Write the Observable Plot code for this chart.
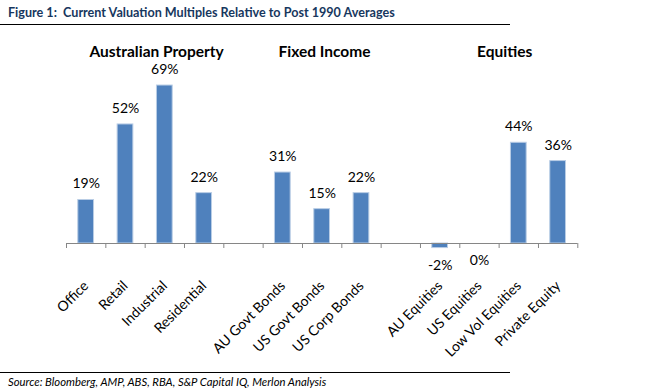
<!DOCTYPE html>
<html>
<head>
<meta charset="utf-8">
<script src="https://cdn.jsdelivr.net/npm/d3@7"></script>
<script src="https://cdn.jsdelivr.net/npm/@observablehq/plot@0.6"></script>
<style>
  body { margin: 0; background: #fff; font-family: Lato, "Open Sans", sans-serif; }
  #wrap { width: 645px; height: 392px; position: relative; overflow: hidden; }
  #title { position: absolute; left: 8px; top: 5px; font-weight: bold; font-size: 12.6px; color: #17375e; white-space: pre; }
  .rule { position: absolute; left: 0; width: 510px; height: 1px; background: #000; }
  #chart { position: absolute; left: 0; top: 26px; }
  #source { position: absolute; left: 8px; top: 375px; font-style: italic; font-size: 11.3px; color: #000; }
</style>
</head>
<body>
<div id="wrap">
  <div id="title">Figure 1:  Current Valuation Multiples Relative to Post 1990 Averages</div>
  <div class="rule" style="top:24px"></div>
  <div id="chart"></div>
  <div class="rule" style="top:372px"></div>
  <div id="source">Source: Bloomberg, AMP, ABS, RBA, S&amp;P Capital IQ, Merlon Analysis</div>
</div>
<script>
// Categories (empty strings are the gaps between groups)
const categories = ["Office", "Retail", "Industrial", "Residential", "",
  "AU Govt Bonds", "US Govt Bonds", "US Corp Bonds", "",
  "AU Equities", "US Equities", "Low Vol Equities", "Private Equity"];
const values = [19, 52, 69, 22, null, 31, 15, 22, null, -2, 0, 44, 36];
const groupTitles = ["Australian Property", "Fixed Income", "Equities"];
const groupAnchors = [2.29, 6.56, 11.14]; // slot position each group title is centred over

const data = categories.map((c, i) => ({i, c, v: values[i]})).filter(d => d.v !== null);
const groups = groupTitles.map((t, k) => ({t, x: groupAnchors[k]}));
const boundaries = d3.range(0, categories.length + 1);
const centres = d3.range(0, categories.length).map(i => i + 0.5);

const chart = Plot.plot({
  width: 645,
  height: 345,
  marginLeft: 66,
  marginRight: 67.7,
  marginTop: 45.3,
  marginBottom: 128,
  style: {fontFamily: "Lato, 'Open Sans', sans-serif", fontSize: "13px", color: "#000", background: "#fff"},
  x: {domain: [0, categories.length], axis: null},
  y: {domain: [0, 75], axis: null},
  marks: [
    Plot.rectY(data, {x1: d => d.i + 0.3, x2: d => d.i + 0.7, y1: 0, y2: "v", fill: "#4f81bd", stroke: "#b9cde5", strokeWidth: 1}),
    Plot.ruleY([0], {stroke: "#868686", strokeWidth: 1}),
    Plot.axisX({ticks: boundaries, tickSize: 5, tickFormat: () => "", stroke: "#868686", anchor: "bottom", label: null}),
    Plot.axisX({ticks: centres, tickSize: 0, tickPadding: 40, tickRotate: -45, dx: 0, label: null,
      tickFormat: d => categories[Math.floor(d)], fontSize: 14, anchor: "bottom", textAnchor: "end"}),
    Plot.text(data.filter(d => d.v > 0), {x: d => d.i + 0.5, y: "v", text: d => d.v + "%", dy: -16, fontSize: 14, fill: "#000"}),
    Plot.text(data.filter(d => d.v <= 0), {x: d => d.i + 0.5, y: "v", text: d => d.v + "%", dy: 17, fontSize: 14, fill: "#000"}),
    Plot.text(groups, {x: "x", frameAnchor: "top", lineAnchor: "middle", dy: -20, text: "t", fontWeight: "bold", fontSize: 15.5, fill: "#000"})
  ]
});
document.getElementById("chart").appendChild(chart);
</script>
</body>
</html>
